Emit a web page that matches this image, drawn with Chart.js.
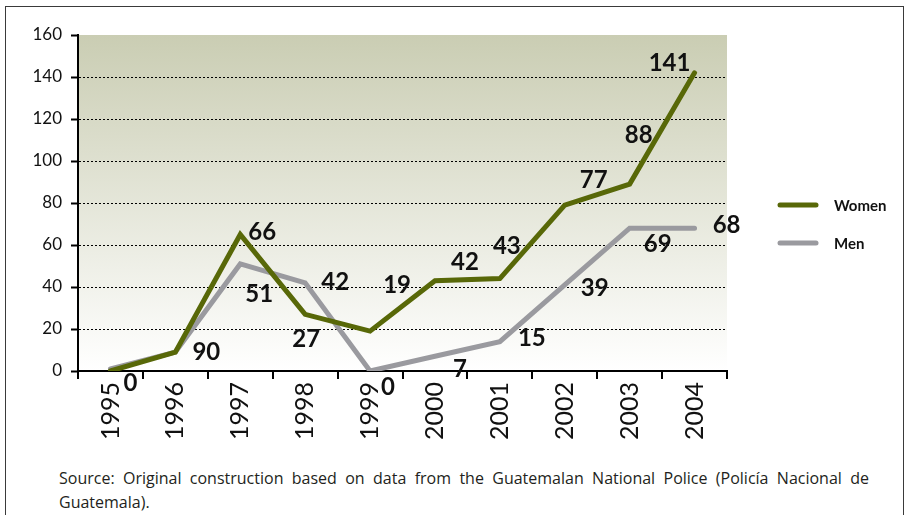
<!doctype html>
<html lang="en">
  <head>
    <meta charset="UTF-8" />
    <title>Women and Men killed, Guatemala 1995-2004</title>
    <script src="https://cdn.jsdelivr.net/npm/chart.js"></script>
    <style>
      html, body {
        margin: 0;
        padding: 0;
        background: #fff;
        font-family: Lato, sans-serif;
      }
      #frame {
        position: absolute;
        left: 5px;
        top: 6px;
        width: 897px;
        height: 520px;
        border: 1.5px solid #3a3a3a;
        border-bottom: none;
      }
      #chart {
        position: absolute;
        left: 0;
        top: 0;
      }
      .source {
        position: absolute;
        left: 59px;
        width: 810px;
        font-family: "Open Sans", sans-serif;
        font-size: 16px;
        line-height: 24px;
        color: #231f20;
      }
      #src1 {
        top: 466px;
        text-align: justify;
        text-align-last: justify;
      }
      #src2 {
        top: 490px;
      }
    </style>
  </head>
  <body>
    <div id="frame"></div>
    <canvas id="chart" width="906" height="460"></canvas>
    <div class="source" id="src1">Source: Original construction based on data from the Guatemalan National Police (Policía Nacional de</div>
    <div class="source" id="src2">Guatemala).</div>

    <script>
      // values
      const years = ["1995", "1996", "1997", "1998", "1999", "2000", "2001", "2002", "2003", "2004"];
      const women = [0, 9, 65, 27, 19, 43, 44, 79, 89, 142];
      const men = [1, 9, 51, 42, 0, 7, 14, 41, 68, 68];

      // the printed numbers (as they appear in the original)
      const womenLabels = ["0", "90", "66", "27", "19", "42", "43", "77", "88", "141"];
      const menLabels = [null, null, "51", "42", "0", "7", "15", "39", "69", "68"];

      // where each printed number sits relative to its point
      const womenLabelOffsets = [[20, 11], [31, -1], [22, -3], [1, 24], [27, -47], [30, -19], [7, -33], [29, -26], [9, -50], [-25, -11]];
      const menLabelOffsets = [null, null, [19, 29], [30, -2], [18, 15], [25, 12], [32, -4], [30, 2], [28, 15], [32, -4]];

      const GREEN = "#586808";
      const GREY = "#9a9a9f";

      const plotBackground = {
        id: "plotBackground",
        beforeDraw(chart) {
          const { ctx, chartArea: a } = chart;
          const g = ctx.createLinearGradient(0, a.top, 0, a.bottom);
          g.addColorStop(0, "#cacdb3");
          g.addColorStop(1, "#ffffff");
          ctx.save();
          ctx.fillStyle = g;
          ctx.fillRect(a.left, a.top, a.right - a.left, a.bottom - a.top);
          ctx.restore();
        },
      };

      const pointLabels = {
        id: "pointLabels",
        afterDatasetsDraw(chart) {
          const ctx = chart.ctx;
          ctx.save();
          ctx.font = "bold 24px Lato";
          ctx.fillStyle = "#111";
          ctx.textAlign = "center";
          ctx.textBaseline = "middle";
          chart.data.datasets.forEach((ds, di) => {
            const meta = chart.getDatasetMeta(di);
            meta.data.forEach((pt, i) => {
              const txt = ds.printed[i];
              const off = ds.printedOffsets[i];
              if (txt == null || !off) return;
              ctx.fillText(txt, pt.x + off[0], pt.y + off[1] + 1);
            });
          });
          ctx.restore();
        },
      };

      const sideLegend = {
        id: "sideLegend",
        afterDraw(chart) {
          const ctx = chart.ctx;
          ctx.save();
          ctx.font = "bold 15px Lato";
          ctx.textBaseline = "middle";
          ctx.fillStyle = "#111";
          chart.data.datasets.forEach((ds, i) => {
            const y = 205 + i * 38;
            ctx.strokeStyle = ds.borderColor;
            ctx.lineWidth = 5;
            ctx.lineCap = "round";
            ctx.beginPath();
            ctx.moveTo(780, y);
            ctx.lineTo(816, y);
            ctx.stroke();
            ctx.fillText(ds.label, 834, y + 1);
          });
          ctx.restore();
        },
      };

      new Chart(document.getElementById("chart").getContext("2d"), {
        type: "line",
        data: {
          labels: years,
          datasets: [
            {
              label: "Women",
              data: women,
              borderColor: GREEN,
              borderWidth: 5,
              borderCapStyle: "round",
              borderJoinStyle: "miter",
              pointRadius: 0,
              tension: 0,
              printed: womenLabels,
              printedOffsets: womenLabelOffsets,
            },
            {
              label: "Men",
              data: men,
              borderColor: GREY,
              borderWidth: 5,
              borderCapStyle: "round",
              borderJoinStyle: "miter",
              pointRadius: 0,
              tension: 0,
              printed: menLabels,
              printedOffsets: menLabelOffsets,
            },
          ],
        },
        options: {
          responsive: false,
          animation: false,
          layout: { padding: { left: 0, top: 35, right: 179, bottom: 0 } },
          plugins: {
            legend: { display: false },
            tooltip: { enabled: false },
          },
          scales: {
            x: {
              offset: true,
              grid: {
                offset: true,
                drawOnChartArea: false,
                tickLength: 8,
                tickColor: "#000",
                lineWidth: 2,
              },
              border: { color: "#000", width: 2 },
              ticks: {
                minRotation: 90,
                maxRotation: 90,
                padding: 3,
                color: "#111",
                font: { family: "Lato", size: 25 },
              },
              afterFit(scale) {
                scale.height = 89;
              },
            },
            y: {
              min: 0,
              max: 160,
              ticks: {
                stepSize: 20,
                padding: 9,
                color: "#111",
                font: { family: "Lato", size: 17 },
              },
              grid: {
                color: (c) => (c.tick && (c.tick.value === 160 || c.tick.value === 0) ? "rgba(0,0,0,0)" : "#000"),
                lineWidth: 1,
                tickColor: "#000",
                tickBorderDash: [],
                tickLength: 7,
                tickWidth: 2,
              },
              // in v4 the dash here styles the grid lines, not the axis line
              border: { color: "#000", width: 2, dash: [2, 2] },
              afterFit(scale) {
                scale.width = 78;
              },
            },
          },
        },
        plugins: [plotBackground, pointLabels, sideLegend],
      });
    </script>
  </body>
</html>
